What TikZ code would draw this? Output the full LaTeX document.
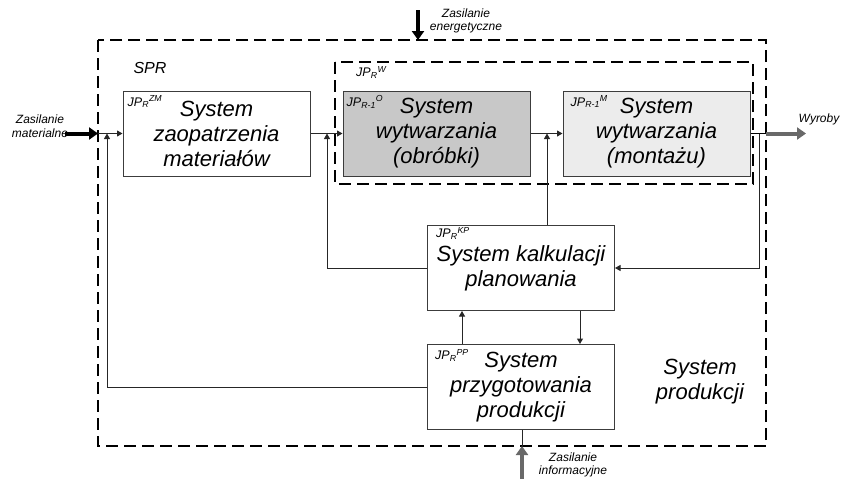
\documentclass[tikz,border=0pt]{standalone}
\usepackage{fontspec}
\setmainfont{Liberation Sans}
\definecolor{sysgray}{RGB}{200,200,200}
\definecolor{syslight}{RGB}{236,236,236}
\definecolor{sysedge}{RGB}{60,60,60}
\definecolor{flowgray}{RGB}{105,105,105}
\usetikzlibrary{arrows.meta,positioning}

\begin{document}
\begin{tikzpicture}[x=1pt, y=-1pt,
  sysbox/.style={
    rectangle, draw=sysedge, line width=1pt,
    minimum width=187pt, minimum height=85pt, inner sep=0pt,
    font=\itshape\fontsize{22}{25}\selectfont,
    align=center
  },
  jplabel/.style={font=\itshape\fontsize{12.5}{14}\selectfont, anchor=north west, inner sep=0pt},
  flowlabel/.style={font=\itshape\fontsize{12}{13.5}\selectfont, align=center, inner sep=0pt},
  frame/.style={draw, line width=2pt, dash pattern=on 12pt off 6pt},
  conn/.style={-{Triangle[length=5.5pt,width=6pt]}, line width=1pt, draw=black!85},
  feed/.style={-{Triangle[length=9pt,width=12pt]}, line width=4pt}
]
\useasboundingbox (0,0) rectangle (843,479);

\draw[frame] (98,40) rectangle (766,446);
\draw[frame] (335,62) rectangle (753,184);

\node[sysbox] (zm) at (216.5,133.5) {System\\zaopatrzenia\\materiałów};
\node[sysbox, fill=sysgray] (obr) at (436.5,133.5) {System\\wytwarzania\\(obróbki)};
\node[sysbox, fill=syslight] (mon) at (656.5,133.5) {System\\wytwarzania\\(montażu)};
\node[sysbox] (kp) at (521,268) {System kalkulacji\\planowania};
\node[sysbox] (pp) at (521,387) {System\\przygotowania\\produkcji};

\node[jplabel] (zmjp) at ([shift={(5,5)}]zm.north west) {JP\textsubscript{R}\textsuperscript{ZM}};
\node[jplabel] (obrjp) at ([shift={(4,5)}]obr.north west) {JP\textsubscript{R-1}\textsuperscript{O}};
\node[jplabel] (monjp) at ([shift={(8,5)}]mon.north west) {JP\textsubscript{R-1}\textsuperscript{M}};
\node[jplabel] (kpjp) at ([shift={(9,2)}]kp.north west) {JP\textsubscript{R}\textsuperscript{KP}};
\node[jplabel] (ppjp) at ([shift={(8,5)}]pp.north west) {JP\textsubscript{R}\textsuperscript{PP}};
\node[jplabel] (wjp) at (356,66) {JP\textsubscript{R}\textsuperscript{W}};

\node[font=\itshape\fontsize{16}{19}\selectfont] (spr) at (150,68) {SPR};
\node[sysbox, draw=none] (prod) at (700,382) {System\\produkcji};

\coordinate (inS) at (65,133.5);
\coordinate (inE) at (98,133.5);
\coordinate (outS) at (766,133.5);
\coordinate (outE) at (806,133.5);
\coordinate (enS) at (418,10);
\coordinate (enE) at (418,40);
\coordinate (infoS) at (522,479);
\coordinate (infoE) at (522,446);
\coordinate (tap) at (759,133.5);
\coordinate (injoin) at (107,133.5);
\coordinate (zmjoin) at (327,133.5);
\coordinate (obrjoin) at (547,133.5);

\draw[feed] (inS) -- (inE);
\draw[conn] (inE) -- (zm.west);
\draw[conn] (zm) -- (obr);
\draw[conn] (obr) -- (mon);
\draw[line width=1pt] (mon.east) -- (outS);
\draw[feed, draw=flowgray] (outS) -- (outE);
\draw[feed] (enS) -- (enE);
\draw[line width=1pt, draw=black!85] (pp.south -| infoE) -- (infoE);
\draw[feed, draw=flowgray] (infoS) -- (infoE);

\draw[conn] (tap) |- (kp.east);
\draw[conn] (kp.north -| obrjoin) -- (obrjoin);
\draw[conn] (kp.west) -| (zmjoin);
\draw[conn] (pp.west) -| (injoin);
\draw[conn] ([xshift=-59pt]pp.north) -- ([xshift=-59pt]kp.south);
\draw[conn] ([xshift=59pt]kp.south) -- ([xshift=59pt]pp.north);

\node[flowlabel] (inlab) at (40,126) {Zasilanie\\materialne};
\node[flowlabel] (enlab) at (466,21) {Zasilanie\\energetyczne};
\node[flowlabel] (infolab) at (573,465) {Zasilanie\\informacyjne};
\node[flowlabel] (outlab) at (819,119) {Wyroby};
\end{tikzpicture}
\end{document}
